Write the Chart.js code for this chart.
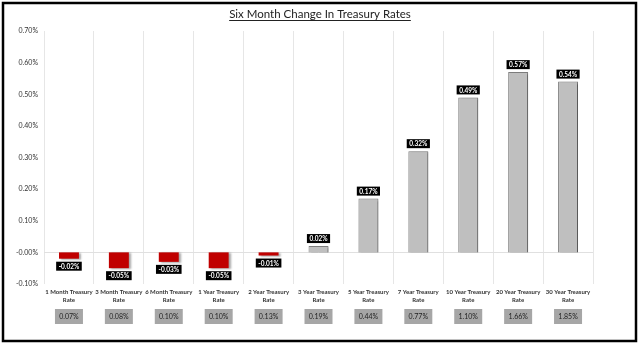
<!DOCTYPE html>
<html lang="en">
<head>
    <meta charset="UTF-8">
    <title>Six Month Change In Treasury Rates</title>
    <style>
        html, body { margin: 0; padding: 0; background: #fff; }
        #wrap { width: 640px; height: 348px; }
    </style>
    <script src="https://cdn.jsdelivr.net/npm/chart.js@4.4.6/dist/chart.umd.min.js"></script>
</head>
<body>
    <div id="wrap"><canvas id="rateChart" width="640" height="348"></canvas></div>
    <script>
        // chart data
        const chartTitle = 'Six Month Change In Treasury Rates';
        const categories = ['1 Month Treasury Rate', '3 Month Treasury Rate', '6 Month Treasury Rate',
            '1 Year Treasury Rate', '2 Year Treasury Rate', '3 Year Treasury Rate', '5 Year Treasury Rate',
            '7 Year Treasury Rate', '10 Year Treasury Rate', '20 Year Treasury Rate', '30 Year Treasury Rate'];
        const changes = [-0.02, -0.05, -0.03, -0.05, -0.01, 0.02, 0.17, 0.32, 0.49, 0.57, 0.54];
        const currentRates = [0.07, 0.08, 0.10, 0.10, 0.13, 0.19, 0.44, 0.77, 1.10, 1.66, 1.85];
        const yMin = -0.1, yMax = 0.7, yStep = 0.1;

        const FONT = 'Lato, "Open Sans", sans-serif';

        // split "X Treasury Rate" into two lines like the original
        const tickLabels = categories.map(c => [c.replace(/ Rate$/, ''), 'Rate']);

        const barColors = changes.map(v => v < 0 ? '#c00000' : '#bfbfbf');
        const barBorders = changes.map(v => v < 0 ? '#c00000' : '#7f7f7f');
        const barBorderWidths = changes.map(v => v < 0 ? 0 : 1);

        // frame + title
        const framePlugin = {
            id: 'frame',
            afterDraw(chart) {
                const ctx = chart.ctx;
                ctx.save();
                ctx.strokeStyle = '#000';
                ctx.lineWidth = 2.5;
                ctx.strokeRect(3, 3, 633, 338);

                ctx.font = '11.5px ' + FONT;
                ctx.fillStyle = '#222';
                ctx.textAlign = 'center';
                ctx.textBaseline = 'middle';
                ctx.fillText(chartTitle, 320, 14);
                const w = ctx.measureText(chartTitle).width;
                ctx.strokeStyle = '#222';
                ctx.lineWidth = 1;
                ctx.beginPath();
                ctx.moveTo(320 - w / 2, 20.5);
                ctx.lineTo(320 + w / 2, 20.5);
                ctx.stroke();
                ctx.restore();
            }
        };

        // bar shadows
        const shadowPlugin = {
            id: 'shadow',
            beforeDatasetsDraw(chart) {
                const ctx = chart.ctx;
                ctx.save();
                ctx.shadowColor = 'rgba(0,0,0,0.35)';
                ctx.shadowOffsetX = 2;
                ctx.shadowOffsetY = 1;
                ctx.shadowBlur = 2;
            },
            afterDatasetsDraw(chart) {
                chart.ctx.restore();
            }
        };

        // black value boxes on bars, grey boxes with current rates
        const labelPlugin = {
            id: 'labels',
            afterDatasetsDraw(chart) {
                const ctx = chart.ctx;
                const meta = chart.getDatasetMeta(0);
                const xScale = chart.scales.x;
                ctx.save();
                ctx.font = 'bold 6.5px ' + FONT;
                ctx.textAlign = 'center';
                ctx.textBaseline = 'middle';
                meta.data.forEach((bar, i) => {
                    const v = changes[i];
                    const txt = v.toFixed(2) + '%';
                    const w = ctx.measureText(txt).width + 5;
                    const h = 9;
                    let y;
                    if (v >= 0) y = bar.y - 3 - h;
                    else y = bar.y + 3;
                    ctx.fillStyle = '#000';
                    ctx.fillRect(bar.x - w / 2, y, w, h);
                    ctx.fillStyle = '#fff';
                    ctx.fillText(txt, bar.x, y + h / 2 + 0.5);
                });

                ctx.font = '7px ' + FONT;
                currentRates.forEach((r, i) => {
                    const x = xScale.getPixelForValue(i);
                    ctx.fillStyle = '#a6a6a6';
                    ctx.fillRect(x - 14, 309, 28, 15);
                    ctx.fillStyle = '#222';
                    ctx.fillText(r.toFixed(2) + '%', x, 316.5);
                });
                ctx.restore();
            }
        };

        new Chart(document.getElementById('rateChart'), {
            type: 'bar',
            data: {
                labels: tickLabels,
                datasets: [{
                    data: changes,
                    backgroundColor: barColors,
                    borderColor: barBorders,
                    borderWidth: barBorderWidths,
                    barPercentage: 0.4,
                    categoryPercentage: 1
                }]
            },
            options: {
                responsive: false,
                animation: false,
                layout: { padding: { top: 31, right: 47, left: 0, bottom: 0 } },
                plugins: {
                    legend: { display: false },
                    tooltip: { enabled: false },
                    title: { display: false }
                },
                scales: {
                    x: {
                        afterFit(scale) { scale.height = 64; },
                        grid: { offset: true, color: '#e6e6e6', drawTicks: false },
                        border: { display: false },
                        ticks: {
                            padding: 4,
                            color: '#333',
                            maxRotation: 0,
                            autoSkip: false,
                            font: { family: FONT, size: 6, weight: 'bold', lineHeight: 1.3 }
                        }
                    },
                    y: {
                        min: yMin,
                        max: yMax,
                        afterFit(scale) { scale.width = 44; },
                        grid: {
                            drawTicks: false,
                            color: ctx => ctx.tick && Math.abs(ctx.tick.value) < 1e-9 ? '#e0e0e0' : 'rgba(0,0,0,0)'
                        },
                        border: { display: false },
                        ticks: {
                            stepSize: yStep,
                            padding: 6,
                            color: '#333',
                            font: { family: FONT, size: 7 },
                            callback: v => v.toFixed(2) + '%'
                        }
                    }
                }
            },
            plugins: [shadowPlugin, labelPlugin, framePlugin]
        });
    </script>
</body>
</html>
